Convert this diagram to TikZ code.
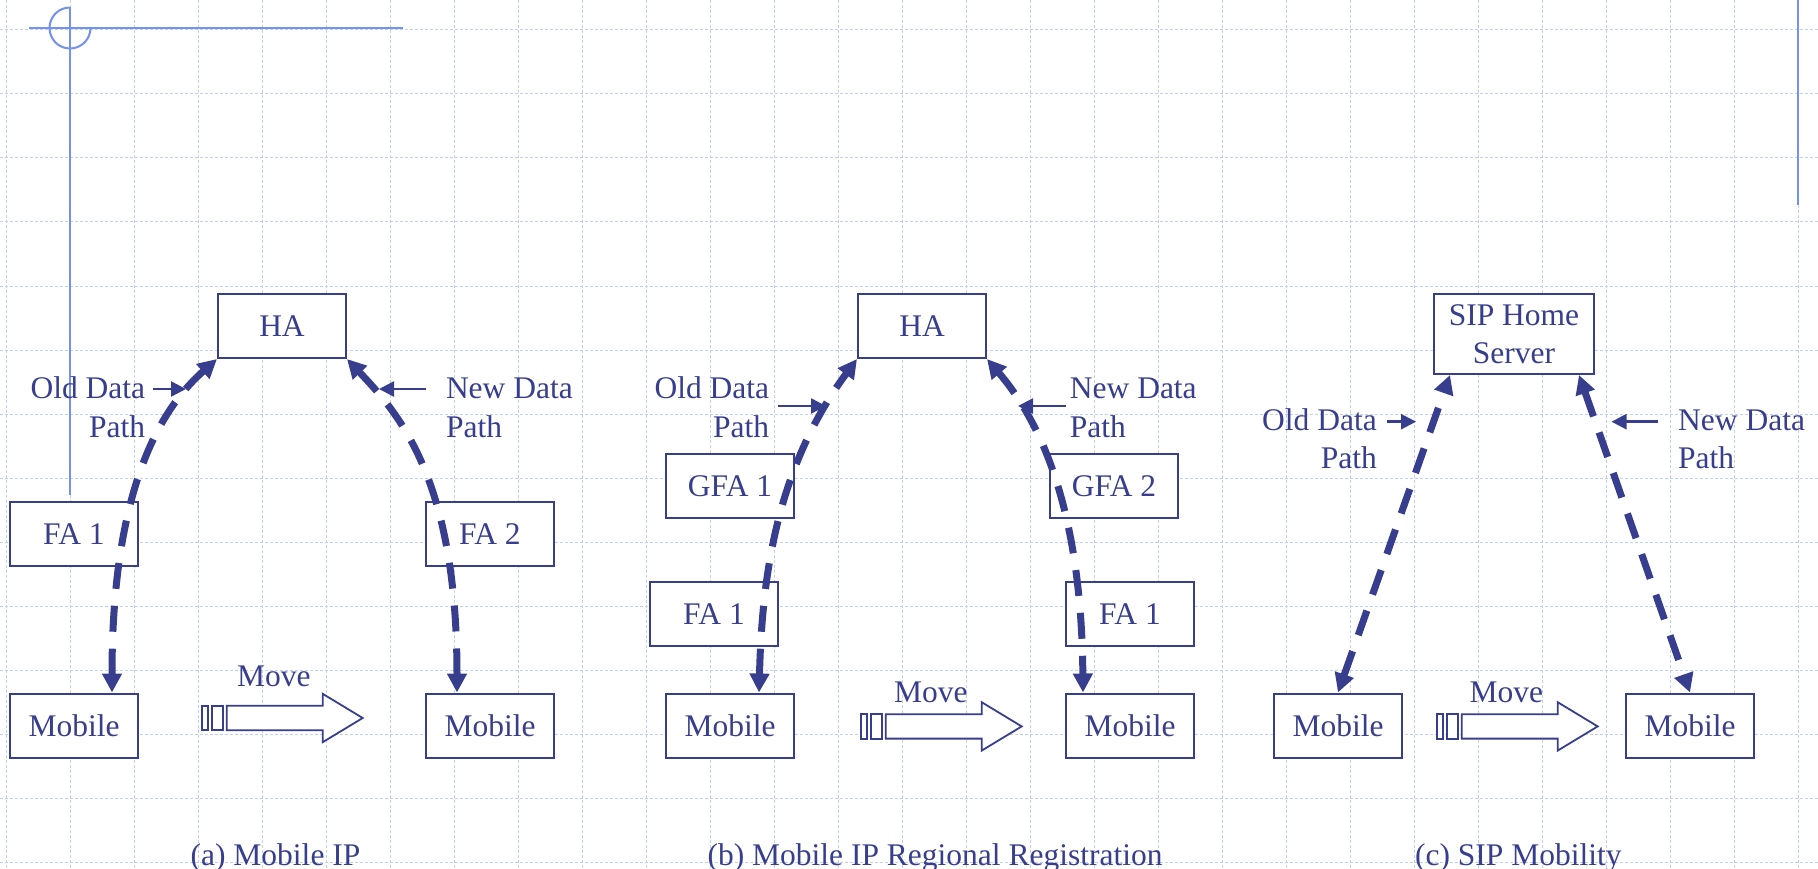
\documentclass[tikz,border=0pt]{standalone}
\usepackage{fontspec}
\setmainfont{Liberation Serif}
\usetikzlibrary{arrows.meta}
\definecolor{ink}{RGB}{56,62,142}
\definecolor{gridc}{RGB}{192,207,250}
\definecolor{decorc}{RGB}{115,145,240}
\definecolor{titlec}{RGB}{102,0,102}
\newcommand{\lblfont}{\fontsize{31.5}{37.5}\selectfont}
\tikzset{
  bigtip/.tip={Triangle[length=19pt,width=19pt]},
  smalltip/.tip={Triangle[length=15pt,width=15pt]},
  gridline/.style={draw=gridc, line width=1pt, dash pattern=on 3pt off 2pt},
  decorline/.style={draw=decorc, line width=2pt},
  box/.style={draw=ink, line width=2pt, fill=white, minimum width=128pt, minimum height=64pt, inner sep=0pt, text=ink, font=\lblfont},
  lbl/.style={text=ink, inner sep=0pt, font=\lblfont},
  dpath/.style={draw=ink, line width=7pt, dash pattern=on 26pt off 17pt, bigtip-bigtip},
  ptr/.style={draw=ink, line width=2.5pt, -smalltip},
  mvline/.style={draw=ink, line width=1.8pt, fill=white},
  movearrow/.pic={
    \draw[mvline] (0,-12.2) rectangle (6,12.2);
    \draw[mvline] (10,-12.2) rectangle (21,12.2);
    \draw[mvline] (25,-12.2) -- (121,-12.2) -- (121,-24.2) -- (161,0) -- (121,24.2) -- (121,12.2) -- (25,12.2) -- cycle;
  }
}
\begin{document}
\begin{tikzpicture}[x=1pt,y=-1pt]
\useasboundingbox (0,0) rectangle (1818,869);
% background grid
\foreach \k in {0,...,28} \draw[gridline] ({6+64*\k},0) -- ({6+64*\k},869);
\foreach \k in {0,...,13} \draw[gridline] (0,{30+64*\k}) -- (1818,{30+64*\k});
% slide decoration
\node[font=\fontsize{40}{48}\selectfont\bfseries, text=titlec, anchor=base west, inner sep=0pt] (ttl) at (278,-9) {y};
\draw[decorline] (29,28) -- (403,28);
\draw[decorline] (70,7.5) -- (70,495);
\draw[decorline] (70,7.5) arc[start angle=90, end angle=360, radius=20.5pt];
\draw[decorline, line width=2.5pt] (1798,0) -- (1798,205);

% ---------- (a) Mobile IP ----------
\node[box] (haA) at (282,326) {HA};
\node[box] (fa1A) at (74,534) {FA 1};
\node[box] (fa2A) at (490,534) {FA 2};
\node[box] (mobA1) at (74,725.5) {Mobile};
\node[box] (mobA2) at (490,725.5) {Mobile};
\node[lbl, anchor=base east] (oldA1) at (145.4,398) {Old Data};
\node[lbl, anchor=base east] (oldA2) at (145.4,437) {Path};
\node[lbl, anchor=base west] (newA1) at (445.8,398) {New Data};
\node[lbl, anchor=base west] (newA2) at (445.8,437) {Path};
\coordinate (oaS) at (153,389); \coordinate (oaE) at (186,389);
\coordinate (naS) at (425.6,389); \coordinate (naE) at (379,389);
\draw[ptr] (oaS) -- (oaE);
\draw[ptr] (naS) -- (naE);
\draw[dpath] ([xshift=38pt]mobA1.north) .. controls (112,480) and (165,405) .. (haA.south west);
\draw[dpath] (haA.south east) .. controls (400,415) and (457,480) .. ([xshift=-33pt]mobA2.north);
\pic at (201.7,718) {movearrow};
\node[lbl, anchor=base west] (mvA) at (237,686.7) {Move};
\node[lbl, anchor=base] (capA) at (275.5,865) {(a) Mobile IP};

% ---------- (b) Mobile IP Regional Registration ----------
\node[box] (haB) at (922,326) {HA};
\node[box] (gfa1B) at (730,486) {GFA 1};
\node[box] (gfa2B) at (1114,486) {GFA 2};
\node[box] (fa1B) at (714,613.7) {FA 1};
\node[box] (fa1Bb) at (1130,613.7) {FA 1};
\node[box] (mobB1) at (730,725.5) {Mobile};
\node[box] (mobB2) at (1130,725.5) {Mobile};
\node[lbl, anchor=base east] (oldB1) at (769.3,398) {Old Data};
\node[lbl, anchor=base east] (oldB2) at (769.3,437) {Path};
\node[lbl, anchor=base west] (newB1) at (1069.7,398) {New Data};
\node[lbl, anchor=base west] (newB2) at (1069.7,437) {Path};
\coordinate (obS) at (778,406); \coordinate (obE) at (826,406);
\coordinate (nbS) at (1066,406); \coordinate (nbE) at (1018,406);
\draw[ptr] (obS) -- (obE);
\draw[ptr] (nbS) -- (nbE);
\draw[dpath] ([xshift=29pt]mobB1.north) .. controls (762,580) and (775,470) .. (haB.south west);
\draw[dpath] (haB.south east) .. controls (1065,450) and (1082,570) .. ([xshift=-47pt]mobB2.north);
\pic at (860.7,726.4) {movearrow};
\node[lbl, anchor=base west] (mvB) at (894,702.3) {Move};
\node[lbl, anchor=base] (capB) at (935,865) {(b) Mobile IP Regional Registration};

% ---------- (c) SIP Mobility ----------
\node[box, minimum width=160pt, minimum height=80pt, align=center] (sipC) at (1514,334) {SIP Home\\Server};
\node[box] (mobC1) at (1338,725.5) {Mobile};
\node[box] (mobC2) at (1690,725.5) {Mobile};
\node[lbl, anchor=base east] (oldC1) at (1377,430) {Old Data};
\node[lbl, anchor=base east] (oldC2) at (1377,468.3) {Path};
\node[lbl, anchor=base west] (newC1) at (1678,430) {New Data};
\node[lbl, anchor=base west] (newC2) at (1678,468.3) {Path};
\coordinate (ocS) at (1387,421.7); \coordinate (ocE) at (1416,421.7);
\coordinate (ncS) at (1657.6,421.7); \coordinate (ncE) at (1611.5,421.7);
\draw[ptr] (ocS) -- (ocE);
\draw[ptr] (ncS) -- (ncE);
\draw[dpath] (mobC1.north) -- ([xshift=17pt]sipC.south west);
\draw[dpath] ([xshift=-16pt]sipC.south east) -- (mobC2.north);
\pic at (1436.7,726.4) {movearrow};
\node[lbl, anchor=base west] (mvC) at (1469.3,702.3) {Move};
\node[lbl, anchor=base] (capC) at (1518.3,865) {(c) SIP Mobility};
\end{tikzpicture}
\end{document}
